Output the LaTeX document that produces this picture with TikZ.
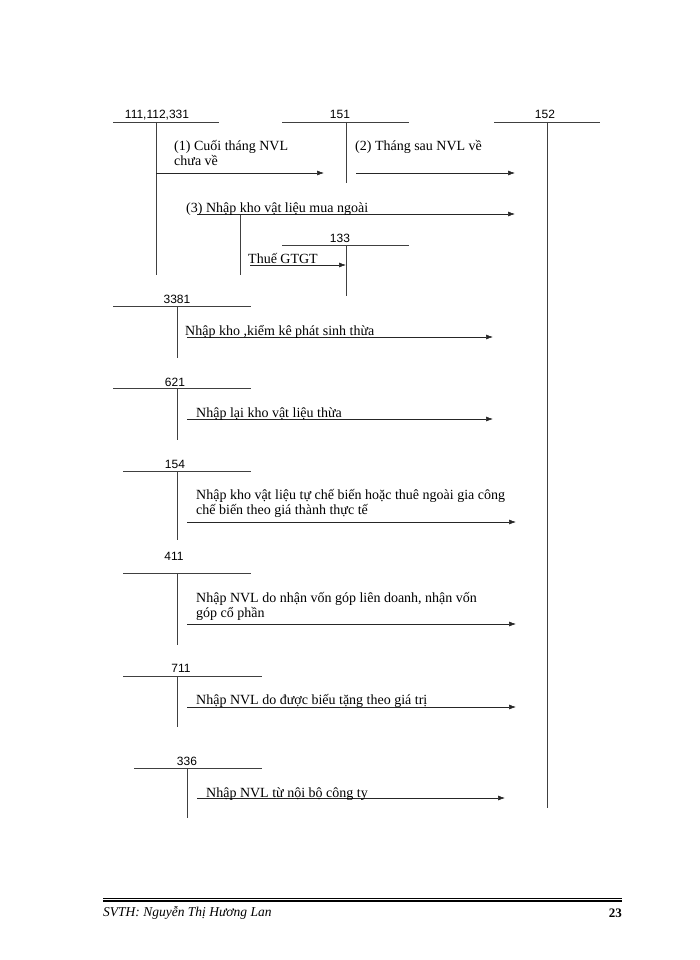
\documentclass[tikz,border=0pt]{standalone}
\usepackage{fontspec}
\setmainfont{Liberation Serif}
\newfontfamily\numfont{Liberation Sans}
\usetikzlibrary{arrows.meta, positioning}

\begin{document}
\begin{tikzpicture}[x=1pt, y=-1pt,
  acc/.style={line width=0.8pt, black!75},
  flow/.style={line width=0.6pt, black!85, -{Latex[length=7pt,width=5pt]}},
  num/.style={font=\numfont\fontsize{12}{14}\selectfont, anchor=base, inner sep=0pt},
  txt/.style={font=\fontsize{14}{15}\selectfont, anchor=base west, inner sep=0pt, align=left}]
\useasboundingbox (0,0) rectangle (700,960);

% T accounts
\draw [acc] (113,122) -- (219,122);
\draw [acc] (156,122) -- (156,275);
\node [num] (n111) at (157,119) {111,112,331};
\draw [acc] (282,122) -- (409,122);
\draw [acc] (346,122) -- (346,183);
\node [num] (n151) at (340,119) {151};
\draw [acc] (494,122) -- (600,122);
\draw [acc] (547,122) -- (547,808);
\node [num] (n152) at (545,119) {152};
\draw [acc] (240,214) -- (240,275);
\draw [acc] (282,245) -- (409,245);
\draw [acc] (346,245) -- (346,296);
\node [num] (n133) at (340,242) {133};

\draw [acc] (113,306) -- (251,306);
\draw [acc] (177,306) -- (177,358);
\node [num] (n3381) at (177,303) {3381};
\draw [acc] (113,388) -- (251,388);
\draw [acc] (177,388) -- (177,440);
\node [num] (n621) at (175,386) {621};
\draw [acc] (123,471) -- (251,471);
\draw [acc] (177,471) -- (177,540);
\node [num] (n154) at (175,468) {154};
\draw [acc] (123,573) -- (251,573);
\draw [acc] (177,573) -- (177,645);
\node [num] (n411) at (174,560) {411};
\draw [acc] (123,676) -- (262,676);
\draw [acc] (177,676) -- (177,727);
\node [num] (n711) at (181,672) {711};
\draw [acc] (134,768) -- (262,768);
\draw [acc] (187,768) -- (187,818);
\node [num] (n336) at (187,765) {336};

% arrows
\coordinate (s1) at (156,173);  \coordinate (e1) at (324,173);
\coordinate (s2) at (356,173);  \coordinate (e2) at (515,173);
\coordinate (s3) at (197,214);  \coordinate (e3) at (515,214);
\coordinate (s4) at (250,265);  \coordinate (e4) at (346,265);
\coordinate (s5) at (187,337);  \coordinate (e5) at (493,337);
\coordinate (s6) at (187,419);  \coordinate (e6) at (493,419);
\coordinate (s7) at (187,522);  \coordinate (e7) at (516,522);
\coordinate (s8) at (187,624);  \coordinate (e8) at (516,624);
\coordinate (s9) at (187,707);  \coordinate (e9) at (516,707);
\coordinate (s10) at (197,798); \coordinate (e10) at (505,798);
\draw [flow] (s1) -- (e1);
\draw [flow] (s2) -- (e2);
\draw [flow] (s3) -- (e3);
\draw [flow] (s4) -- (e4);
\draw [flow] (s5) -- (e5);
\draw [flow] (s6) -- (e6);
\draw [flow] (s7) -- (e7);
\draw [flow] (s8) -- (e8);
\draw [flow] (s9) -- (e9);
\draw [flow] (s10) -- (e10);

% texts (base = last line)
\node [txt] (t1) at (174,166) {(1) Cuối tháng NVL\\chưa về};
\node [txt] (t2) at (355,151) {(2) Tháng  sau NVL về};
\node [txt] (t3) at (186,212) {(3) Nhập kho vật liệu  mua ngoài};
\node [txt] (t4) at (248,263) {Thuế  GTGT};
\node [txt] (t5) at (185,335) {Nhập kho ,kiểm  kê phát sinh  thừa};
\node [txt] (t6) at (196,417) {Nhập lại  kho vật liệu  thừa};
\node [txt] (t7) at (196,514) {Nhập kho vật liệu  tự chế biến  hoặc thuê  ngoài gia  công\\chế biến theo giá thành thực tế};
\node [txt] (t8) at (196,617) {Nhập NVL do nhận  vốn góp liên  doanh, nhận  vốn\\góp cổ phần};
\node [txt] (t9) at (196,704) {Nhập NVL  do được biếu tặng theo giá  trị};
\node [txt] (t10) at (206,797) {Nhập NVL từ nội  bộ công ty};

% footer
\draw [line width=0.6pt] (103,898) -- (622,898);
\draw [line width=1.5pt] (103,901) -- (622,901);
\node [font=\itshape\fontsize{13.5}{15}\selectfont, anchor=base west, inner sep=0pt] (svth) at (103,916) {SVTH: Nguyễn Thị Hương Lan};
\node [font=\bfseries\fontsize{13}{15}\selectfont, anchor=base east, inner sep=0pt] (page) at (622,917) {23};
\end{tikzpicture}
\end{document}
